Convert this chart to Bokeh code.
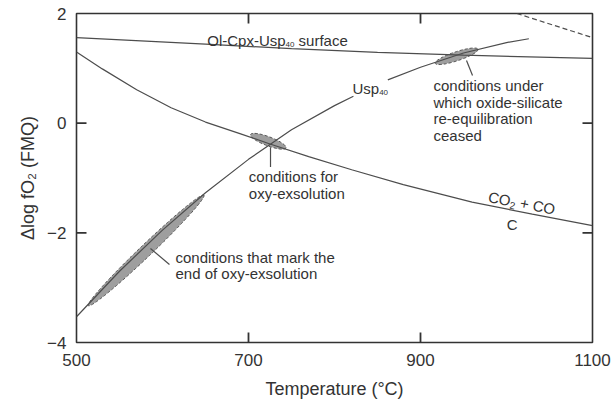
import math
from bokeh.plotting import figure
from bokeh.models import Range1d, FixedTicker
from bokeh.core.properties import value
from bokeh.embed import file_html
from bokeh.resources import INLINE

nan = float("nan")

# ---------------- data ----------------
surface_T = [500, 650, 750, 850, 950, 1100]
surface_dlog = [1.56, 1.44, 1.36, 1.29, 1.24, 1.18]

co2_T = [500, 530, 570, 610, 650, 690, 725, 770, 820, 880, 960, 1030, 1100]
co2_dlog = [1.30, 0.99, 0.61, 0.28, 0.02, -0.19, -0.38, -0.61, -0.85, -1.12, -1.44, -1.66, -1.87]

usp_T = [500, 550, 600, 650, 700, 750, 800, 822, nan, 862, 900, 950, 1000, 1026]
usp_dlog = [-3.53, -2.70, -1.95, -1.27, -0.66, -0.12, 0.32, 0.49, nan, 0.79, 1.02, 1.28, 1.47, 1.54]

dash_T = [1012, 1100]
dash_dlog = [2.0, 1.56]

region_T = [581, 723, 942]
region_dlog = [-2.32, -0.33, 1.22]

x_ticks = [500, 700, 900, 1100]
y_ticks = [-4, -2, 0, 2]
y_tick_labels = {-4: "\u22124", -2: "\u22122", 0: "0", 2: "2"}

# ---------------- layout / style ----------------
FONT = "Liberation Sans"
TXT = "#333333"
LINE = "#4d4d4d"
FRAME = "#333333"

W, H = 613, 404
FL, FR, FT, FB = 76, 592, 13, 342          # frame edges in pixels
X0, X1, Y0, Y1 = 500, 1100, -4, 2
TICK_PX = 10
tick_dx = TICK_PX * (X1 - X0) / (FR - FL)
tick_dy = TICK_PX * (Y1 - Y0) / (FB - FT)

region_major_px = [160, 38, 45]
region_minor_px = [12, 9, 9]
region_angle = [0.763, -0.36, 0.32]

p = figure(width=W, height=H, output_backend="svg", toolbar_location=None,
           x_range=Range1d(X0, X1), y_range=Range1d(Y0, Y1),
           min_border_left=FL, min_border_right=W - FR, min_border_top=FT,
           min_border_bottom=H - FB)
p.xgrid.visible = False
p.ygrid.visible = False
p.outline_line_color = FRAME
p.outline_line_width = 1.6
p.background_fill_color = "white"
p.border_fill_color = "white"

for ax in (p.xaxis[0], p.yaxis[0]):
    ax.axis_line_color = None
    ax.major_tick_line_color = None
    ax.minor_tick_line_color = None
    ax.major_tick_in = 0
    ax.major_tick_out = 0
    ax.major_label_text_font = FONT
    ax.major_label_text_font_size = "17px"
    ax.major_label_text_color = TXT
    ax.axis_label_text_font = FONT
    ax.axis_label_text_font_size = "18px"
    ax.axis_label_text_font_style = "normal"
    ax.axis_label_text_color = TXT

p.xaxis.ticker = FixedTicker(ticks=x_ticks)
p.yaxis.ticker = FixedTicker(ticks=y_ticks)
p.yaxis.major_label_overrides = y_tick_labels
p.xaxis.major_label_standoff = 11
p.yaxis.major_label_standoff = 10
p.xaxis.axis_label = "Temperature (\u00b0C)"
p.xaxis.axis_label_standoff = 10
p.yaxis.axis_label = "\u0394log fO\u2082 (FMQ)"
p.yaxis.axis_label_standoff = 6

# inward tick marks on all four frame edges, drawn as one broken line
tick_xs, tick_ys = [], []
for t in x_ticks[1:-1]:
    tick_xs += [t, t, nan, t, t, nan]
    tick_ys += [Y0, Y0 + tick_dy, nan, Y1, Y1 - tick_dy, nan]
for t in y_ticks[1:-1]:
    tick_xs += [X0, X0 + tick_dx, nan, X1, X1 - tick_dx, nan]
    tick_ys += [t, t, nan, t, t, nan]
p.line(tick_xs, tick_ys, line_color=FRAME, line_width=1.8)

# shaded regions
p.ellipse(x=region_T, y=region_dlog, width=region_major_px, height=region_minor_px,
          width_units="screen", height_units="screen", angle=region_angle,
          fill_color="#9e9e9e", fill_alpha=1.0, line_color="#555555",
          line_dash="3 2", line_width=1)

# curves
p.line(surface_T, surface_dlog, line_color=LINE, line_width=1.2)
p.line(co2_T, co2_dlog, line_color=LINE, line_width=1.2)
p.line(usp_T, usp_dlog, line_color=LINE, line_width=1.2)
p.line(dash_T, dash_dlog, line_color=LINE, line_width=1.2, line_dash="5 3")

# leader lines
p.segment(x0=[725.6, 953.5, 586.0], y0=[-0.44, 1.143, -2.286],
          x1=[725.6, 960.5, 608.1], y1=[-0.80, 0.869, -2.577],
          line_color=LINE, line_width=1.2)

def txt(x, y, s, size=15, align="left", angle=0.0, xo=0, yo=0, style="normal"):
    p.text(x=[x], y=[y], text=[s], text_font=value(FONT), text_font_size=f"{size}px",
           text_color=TXT, text_align=align, text_baseline="middle", angle=angle,
           x_offset=xo, y_offset=yo, text_font_style=style)

# Ol-Cpx-Usp40 surface
txt(652.0, 1.508, "Ol-Cpx-Usp")
txt(652.0, 1.508, "40", size=8, xo=78.3, yo=4)
txt(652.0, 1.508, "surface", xo=91.4)

# Usp40
txt(820.9, 0.632, "Usp")
txt(820.9, 0.632, "40", size=8, xo=26.7, yo=4)

# conditions for oxy-exsolution
txt(700.4, -0.973, "conditions for")
txt(700.4, -1.283, "oxy-exsolution")

# conditions under which ...
for yy, s in zip([0.687, 0.386, 0.085, -0.216],
                 ["conditions under", "which oxide-silicate", "re-equilibration", "ceased"]):
    txt(915.1, yy, s)

# conditions that mark the end ...
txt(615.1, -2.444, "conditions that mark the")
txt(615.1, -2.736, "end of oxy-exsolution")

# CO2 + CO (rotated along the curve)
a = -0.19
ca, sa = math.cos(-a), math.sin(-a)
def rot(d, s):
    return d * ca - s * sa, d * sa + s * ca
x0, y0 = 979.1, -1.337
xo, yo = rot(0, 0)
txt(x0, y0, "CO", angle=a, xo=xo, yo=yo)
xo, yo = rot(22.5, 4)
txt(x0, y0, "2", size=10, angle=a, xo=xo, yo=yo)
xo, yo = rot(32.3, 0)
txt(x0, y0, "+ CO", angle=a, xo=xo, yo=yo)
txt(1006.6, -1.848, "C", align="center")

open("out.html", "w").write(file_html(p, INLINE))
